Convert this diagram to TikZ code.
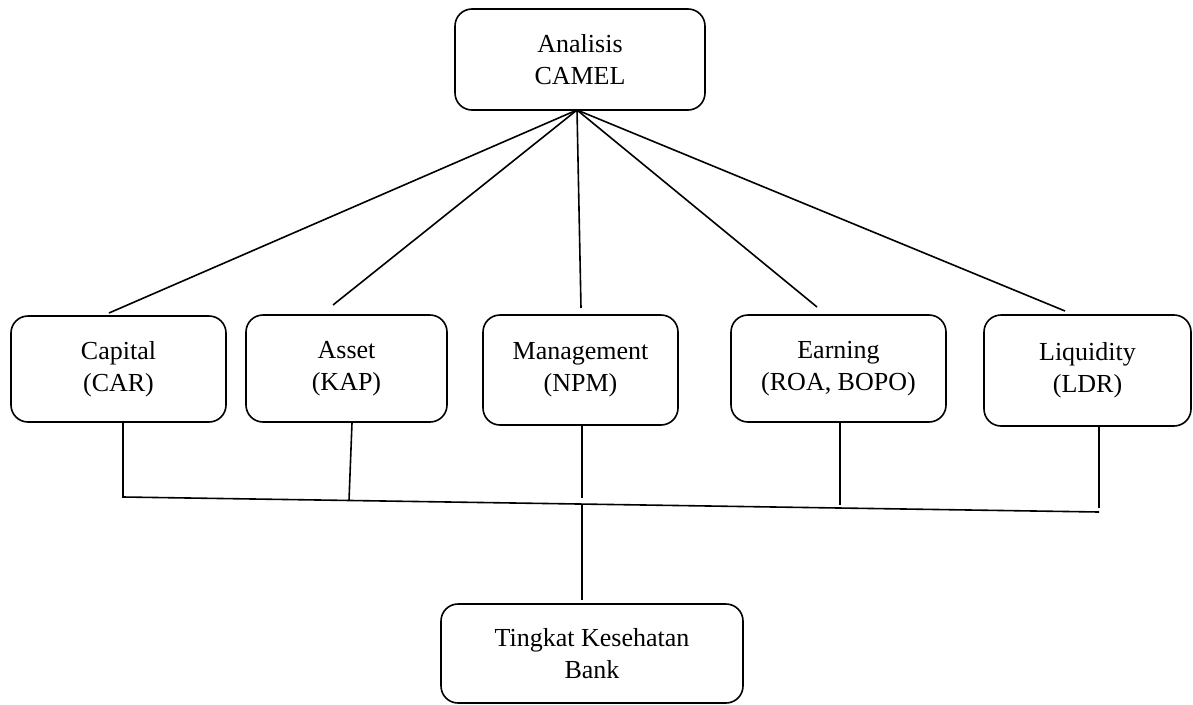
\documentclass[tikz,border=0pt]{standalone}
\usepackage{fontspec}
\setmainfont{Liberation Serif}
\begin{document}
\begin{tikzpicture}[x=1pt,y=-1pt,
  box/.style={draw, line width=1.6pt, rounded corners=17pt, align=center, inner sep=0pt,
    font=\fontsize{26pt}{32pt}\selectfont},
  conn/.style={line width=1.6pt}]
\useasboundingbox (0,0) rectangle (1193,704);
% boxes
\node[box, minimum width=250pt, minimum height=101pt] (top) at (580,59.5) {Analisis\\CAMEL};
\node[box, minimum width=215pt, minimum height=106pt] (cap) at (118.5,369) {Capital\\(CAR)};
\node[box, minimum width=201pt, minimum height=107pt] (ass) at (346.5,368.5) {Asset\\(KAP)};
\node[box, minimum width=195pt, minimum height=110pt] (man) at (580.5,370) {Management\\(NPM)};
\node[box, minimum width=215pt, minimum height=107pt] (ear) at (838.5,368.5) {Earning\\(ROA, BOPO)};
\node[box, minimum width=207pt, minimum height=111pt] (liq) at (1087.5,370.5) {Liquidity\\(LDR)};
\node[box, minimum width=302pt, minimum height=99pt] (bank) at (592,653.5) {Tingkat Kesehatan\\Bank};
% fan from the top box
\coordinate (hub) at (577,110);
\coordinate (capT) at (109,313);
\coordinate (assT) at (333,305);
\coordinate (manT) at (581,308);
\coordinate (earT) at (817,307);
\coordinate (liqT) at (1065,311);
\foreach \t in {capT,assT,manT,earT,liqT} \draw[conn] (hub) -- (\t);
% bus
\coordinate (busL) at (123,497);
\coordinate (busR) at (1099,512);
\coordinate (assJ) at (349,500.5);
\coordinate (assU) at (352,0);
\coordinate (manJ) at (582,504.5);
\coordinate (earJ) at (840,505);
\draw[conn] (cap.south -| busL) -- (busL) -- (busR);
\draw[conn] (ass.south -| assU) -- (assJ);
\draw[conn] (man.south -| manJ) -- ++(0,72);
\draw[conn] (ear.south -| earJ) -- (earJ);
\draw[conn] (liq.south -| busR) -- ++(0,81);
\draw[conn, shorten >=3pt] (manJ) -- (bank.north -| manJ);
\end{tikzpicture}
\end{document}
